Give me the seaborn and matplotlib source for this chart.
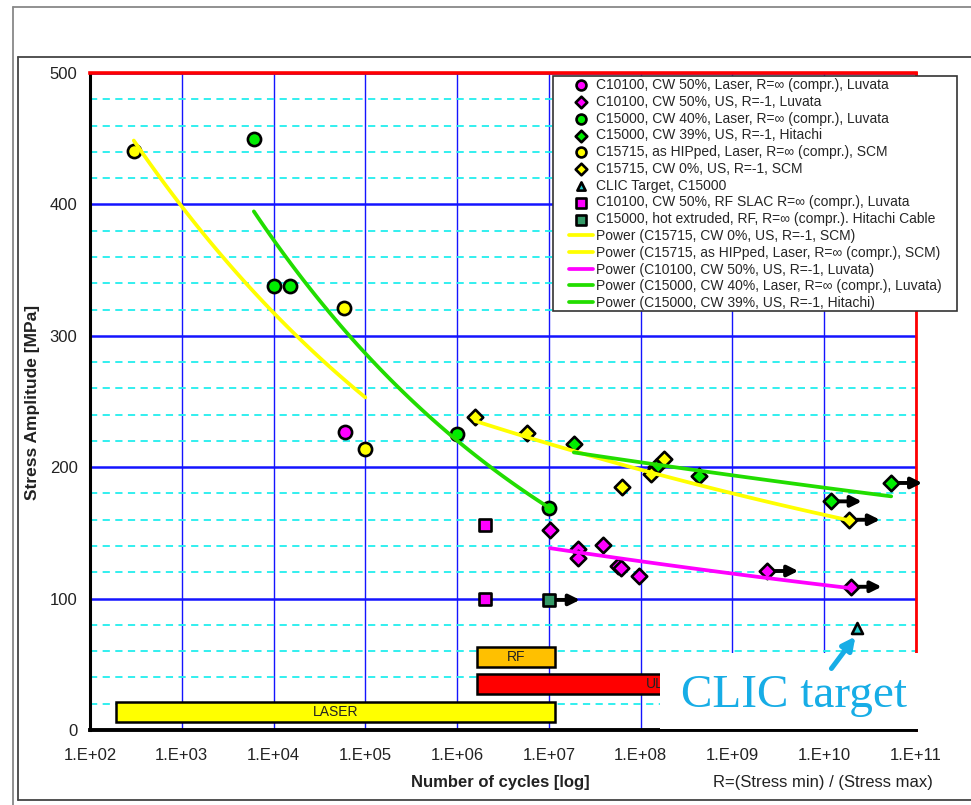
import numpy as np
import pandas as pd
import matplotlib
matplotlib.use("Agg")
import matplotlib.pyplot as plt
from matplotlib.patches import Rectangle
from matplotlib.lines import Line2D
from matplotlib.transforms import offset_copy
import seaborn as sns

# ---------------- data ----------------
# cycles to failure / stress amplitude [MPa]
c10100_laser_n = [6.0e4]
c10100_laser_s = [227]

c10100_us_n = [1.03e7, 2.05e7, 2.05e7, 3.9e7, 5.7e7, 6.1e7, 9.7e7, 2.4e9, 1.94e10]
c10100_us_s = [152, 138, 131, 141, 125, 123, 117, 121, 109]
c10100_us_runout = [False, False, False, False, False, False, False, True, True]

c15000_laser_n = [6.1e3, 1.0e4, 1.5e4, 1.0e6, 1.0e7]
c15000_laser_s = [450, 338, 338, 225, 169]

c15000_us_n = [1.87e7, 1.48e8, 4.3e8, 1.18e10, 5.37e10]
c15000_us_s = [218, 200, 193, 174, 188]
c15000_us_runout = [False, False, False, True, True]

c15715_laser_n = [3.0e2, 5.85e4, 1.0e5]
c15715_laser_s = [441, 321, 214]

c15715_us_n = [1.58e6, 5.76e6, 6.3e7, 1.31e8, 1.8e8, 1.86e10]
c15715_us_s = [238, 226, 185, 195, 206, 160]
c15715_us_runout = [False, False, False, False, False, True]

clic_target_n = [2.3e10]
clic_target_s = [78]

c10100_rf_n = [2.0e6, 2.0e6]
c10100_rf_s = [156, 100]

c15000_rf_n = [1.0e7]
c15000_rf_s = [99]
c15000_rf_runout = [True]

series_labels = [
    "C10100, CW 50%, Laser, R=\u221e (compr.), Luvata",
    "C10100, CW 50%, US, R=-1, Luvata",
    "C15000, CW 40%, Laser, R=\u221e (compr.), Luvata",
    "C15000, CW 39%, US, R=-1, Hitachi",
    "C15715, as HIPped, Laser, R=\u221e (compr.), SCM",
    "C15715, CW 0%, US, R=-1, SCM",
    "CLIC Target, C15000",
    "C10100, CW 50%, RF SLAC R=\u221e (compr.), Luvata",
    "C15000, hot extruded, RF, R=\u221e (compr.). Hitachi Cable",
]

# test method ranges (cycles) drawn as bars along the bottom
method_labels = ["LASER", "UL", "RF"]
method_start = [1.94e2, 1.66e6, 1.66e6]
method_end = [1.18e7, 1.2e10, 1.18e7]
method_level = [13.4, 34.7, 55.8]

x_tick_values = [1e2, 1e3, 1e4, 1e5, 1e6, 1e7, 1e8, 1e9, 1e10, 1e11]
x_tick_labels = ["1.E+02", "1.E+03", "1.E+04", "1.E+05", "1.E+06",
                 "1.E+07", "1.E+08", "1.E+09", "1.E+10", "1.E+11"]
y_tick_values = [0, 100, 200, 300, 400, 500]

# ---------------- style ----------------
sns.set_style("white")
plt.rcParams["font.family"] = ["Liberation Sans", "DejaVu Sans"]

W, H = 971, 805
fig = plt.figure(figsize=(W / 100, H / 100), dpi=100)
fig.patch.set_facecolor("white")


def fx(px):
    return px / W


def fy(py):
    return 1 - py / H


ax = fig.add_axes([fx(90), fy(730), fx(916) - fx(90), fy(73) - fy(730)])
ax.set_xscale("log")
ax.set_xlim(1e2, 1e11)
ax.set_ylim(0, 500)
ax.set_axisbelow(True)

BLUE = "#1414FF"
CYAN = "#22EEEE"
YELLOW = "#FFFF00"
MAGENTA = "#FF00FF"
GREEN_M = "#00EE00"
GREEN_L = "#22DD00"

# grid
ax.set_xticks(x_tick_values)
ax.set_xticklabels(x_tick_labels)
ax.xaxis.set_minor_locator(matplotlib.ticker.NullLocator())
ax.set_yticks(y_tick_values)
ax.set_yticks([v for v in range(20, 500, 20) if v % 100], minor=True)
ax.grid(axis="x", which="major", color=BLUE, lw=1.0)
ax.grid(axis="y", which="major", color=BLUE, lw=1.8)
ax.grid(axis="y", which="minor", color=CYAN, lw=1.3, linestyle=(0, (4, 3)))

ax.tick_params(axis="both", which="major", direction="out", length=5, width=2,
               color="black", labelsize=12, labelcolor="#222222")
ax.tick_params(axis="x", pad=8)
ax.tick_params(axis="y", pad=4)
ax.tick_params(axis="y", which="minor", length=0)

for side in ("left", "bottom"):
    ax.spines[side].set_color("black")
ax.spines["left"].set_linewidth(2.2)
ax.spines["bottom"].set_linewidth(2.8)
ax.spines["top"].set_color("#FF0000")
ax.spines["top"].set_linewidth(2.6)
ax.spines["right"].set_color("#FF0000")
ax.spines["right"].set_linewidth(2.0)

# test method bars
bar_colors = ["#FFFF00", "#FF0000", "#FFC000"]
ax.barh(method_level, np.array(method_end) - np.array(method_start),
        left=method_start, height=15.3, color=bar_colors,
        edgecolor="black", linewidth=1.8, zorder=2)
for lab, a, b, lev in zip(method_labels, method_start, method_end, method_level):
    ax.text(np.sqrt(a * b), lev, lab, ha="center", va="center",
            fontsize=10, color="#222222", zorder=2.5)

# measured points
point_series = [
    (c10100_laser_n, c10100_laser_s, "o", MAGENTA, 90),
    (c10100_us_n, c10100_us_s, "D", MAGENTA, 62),
    (c15000_laser_n, c15000_laser_s, "o", GREEN_M, 90),
    (c15000_us_n, c15000_us_s, "D", GREEN_M, 62),
    (c15715_laser_n, c15715_laser_s, "o", YELLOW, 90),
    (c15715_us_n, c15715_us_s, "D", YELLOW, 62),
    (clic_target_n, clic_target_s, "^", "#22CCCC", 62),
    (c10100_rf_n, c10100_rf_s, "s", MAGENTA, 78),
    (c15000_rf_n, c15000_rf_s, "s", "#339966", 78),
]
for (xs, ys, mk, col, sz), lab in zip(point_series, series_labels):
    sns.scatterplot(x=xs, y=ys, marker=mk, s=sz, color=col, edgecolor="black",
                    linewidth=1.9, label=lab, ax=ax, zorder=3)

# power-law trend lines (least squares in log-log space)
fit_specs = [
    (c15715_us_n, c15715_us_s, YELLOW, "Power (C15715, CW 0%, US, R=-1, SCM)"),
    (c15715_laser_n, c15715_laser_s, YELLOW,
     "Power (C15715, as HIPped, Laser, R=\u221e (compr.), SCM)"),
    (c10100_us_n, c10100_us_s, MAGENTA, "Power (C10100, CW 50%, US, R=-1, Luvata)"),
    (c15000_laser_n, c15000_laser_s, GREEN_L,
     "Power (C15000, CW 40%, Laser, R=\u221e (compr.), Luvata)"),
    (c15000_us_n, c15000_us_s, GREEN_L, "Power (C15000, CW 39%, US, R=-1, Hitachi)"),
]
for xs, ys, col, lab in fit_specs:
    b, a = np.polyfit(np.log10(xs), np.log10(ys), 1)
    xx = np.geomspace(min(xs), max(xs), 120)
    yy = 10 ** (a + b * np.log10(xx))
    sns.lineplot(x=xx, y=yy, color=col, lw=2.7, label=lab, ax=ax,
                 sort=False, estimator=None, zorder=4)

# run-out arrows
runouts = [
    (c10100_us_n, c10100_us_s, c10100_us_runout),
    (c15000_us_n, c15000_us_s, c15000_us_runout),
    (c15715_us_n, c15715_us_s, c15715_us_runout),
    (c15000_rf_n, c15000_rf_s, c15000_rf_runout),
]
t_tail = offset_copy(ax.transData, fig=fig, x=8, y=0, units="dots")
t_head = offset_copy(ax.transData, fig=fig, x=31, y=0, units="dots")
for xs, ys, flags in runouts:
    for xv, yv, f in zip(xs, ys, flags):
        if f:
            ax.annotate("", xy=(xv, yv), xycoords=t_head,
                        xytext=(xv, yv), textcoords=t_tail,
                        arrowprops=dict(arrowstyle="-|>", color="black", lw=2.8,
                                        mutation_scale=16, shrinkA=0, shrinkB=0),
                        zorder=5, annotation_clip=False)

# white panel with the target callout
ax.add_patch(Rectangle((fx(660), fy(728.5)), 1 - fx(660), fy(653) - fy(728.5),
                       transform=fig.transFigure, facecolor="white",
                       edgecolor="none", clip_on=False, zorder=6))
CLIC_BLUE = "#17ADE6"
ax.text(fx(681), fy(707), "CLIC target", transform=fig.transFigure,
        ha="left", va="baseline", fontsize=34, family="Liberation Serif",
        color=CLIC_BLUE, zorder=7)
t_tip = offset_copy(ax.transData, fig=fig, x=-2, y=-9, units="dots")
t_base = offset_copy(ax.transData, fig=fig, x=-26, y=-41, units="dots")
ax.annotate("", xy=(clic_target_n[0], clic_target_s[0]), xycoords=t_tip,
            xytext=(clic_target_n[0], clic_target_s[0]), textcoords=t_base,
            arrowprops=dict(arrowstyle="-|>", color=CLIC_BLUE, lw=3.6,
                            mutation_scale=19, shrinkA=0, shrinkB=0),
            zorder=7, annotation_clip=False)

# axis titles
fig.text(fx(33), fy(402), "Stress Amplitude [MPa]", rotation=90, ha="center",
         va="center", fontsize=12.5, fontweight="bold", color="#222222")
fig.text(fx(500), fy(782), "Number of cycles [log]", ha="center", va="center",
         fontsize=12, fontweight="bold", color="#222222")
fig.text(fx(933), fy(782), "R=(Stress min) / (Stress max)", ha="right",
         va="center", fontsize=12, color="#222222")

# legend
handles, labels = ax.get_legend_handles_labels()
if ax.get_legend():
    ax.get_legend().remove()
fig.add_artist(Rectangle((fx(553), fy(311)), fx(957) - fx(553), fy(76) - fy(311),
                         transform=fig.transFigure, facecolor="white",
                         edgecolor="#333333", lw=1.2, zorder=1))
fig.legend(handles, labels, loc="upper left",
           bbox_to_anchor=(fx(569), fy(78)), bbox_transform=fig.transFigure,
           frameon=False, fontsize=10, borderpad=0, borderaxespad=0,
           labelspacing=0.2, handlelength=1.75, handletextpad=0.2,
           markerscale=0.75)

# page frame lines
for (x0, y0, x1, y1, c) in [(13, 7, 13, 805, "#888888"), (13, 7, 971, 7, "#888888"),
                            (18, 57, 18, 800, "#444444"), (18, 57, 971, 57, "#444444"),
                            (18, 800, 971, 800, "#444444")]:
    fig.add_artist(Line2D([fx(x0), fx(x1)], [fy(y0), fy(y1)], color=c, lw=1.3,
                          transform=fig.transFigure, zorder=1))

fig.savefig("out.png", dpi=100, facecolor="white")
